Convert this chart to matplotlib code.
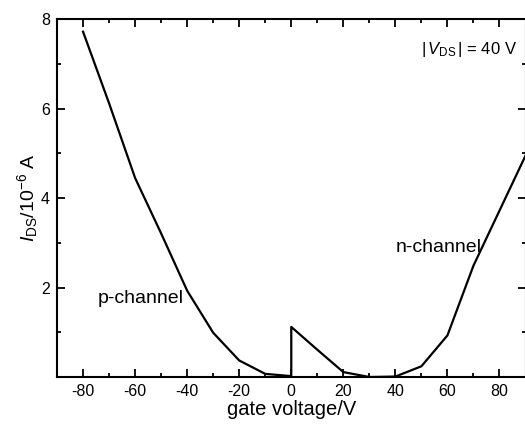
import matplotlib
matplotlib.use("Agg")
import matplotlib.pyplot as plt
from matplotlib.ticker import MultipleLocator

plt.rcParams['font.family'] = ['Liberation Sans', 'DejaVu Sans']
plt.rcParams['mathtext.fontset'] = 'custom'
plt.rcParams['mathtext.rm'] = 'Liberation Sans'
plt.rcParams['mathtext.it'] = 'Liberation Sans:italic'

# gate voltage (V) and drain current (1e-6 A)
gate_voltage = [-80, -70, -60, -50, -40, -30, -20, -10, 0, 0, 10, 20, 30, 40, 50, 60, 70, 80, 90]
current = [7.72, 6.12, 4.45, 3.21, 1.93, 0.99, 0.37, 0.07, 0.02, 1.12, 0.61, 0.11, 0.0, 0.01, 0.24, 0.93, 2.49, 3.72, 4.95]

xticks = [-80, -60, -40, -20, 0, 20, 40, 60, 80]
yticks = [2, 4, 6, 8]

fig = plt.figure(figsize=(5.25, 4.26), dpi=100)
ax = fig.add_axes([0.1086, 0.115, 0.8924, 0.84])
ax.plot(gate_voltage, current, color='black', lw=1.6, solid_joinstyle='round')

ax.set_xlim(-90, 90)
ax.set_ylim(0, 8)
ax.set_xticks(xticks)
ax.set_xticklabels([str(t) for t in xticks])
ax.set_yticks(yticks)
ax.xaxis.set_minor_locator(MultipleLocator(10))
ax.yaxis.set_minor_locator(MultipleLocator(1))
ax.tick_params(which='both', direction='in', top=True, right=True, labelsize=11.5, width=1.3)
ax.tick_params(which='major', length=6, pad=5)
ax.tick_params(which='minor', length=3)
for s in ax.spines.values():
    s.set_linewidth(1.5)

ax.set_xlabel('gate voltage/V', fontsize=14.5, labelpad=1)
ax.set_ylabel(r'$\mathit{I}_{\mathrm{DS}}$/10$^{-6}$ A', fontsize=14, labelpad=1)

ax.text(0.982, 0.915, r'|$\,\mathit{V}_{\mathrm{DS}}\,$| = 40 V', transform=ax.transAxes,
        ha='right', va='center', fontsize=12)
ax.text(-74.5, 1.75, 'p-channel', fontsize=14, ha='left', va='center')
ax.text(40, 2.9, 'n-channel', fontsize=14, ha='left', va='center')

fig.savefig('out.png', dpi=100)
